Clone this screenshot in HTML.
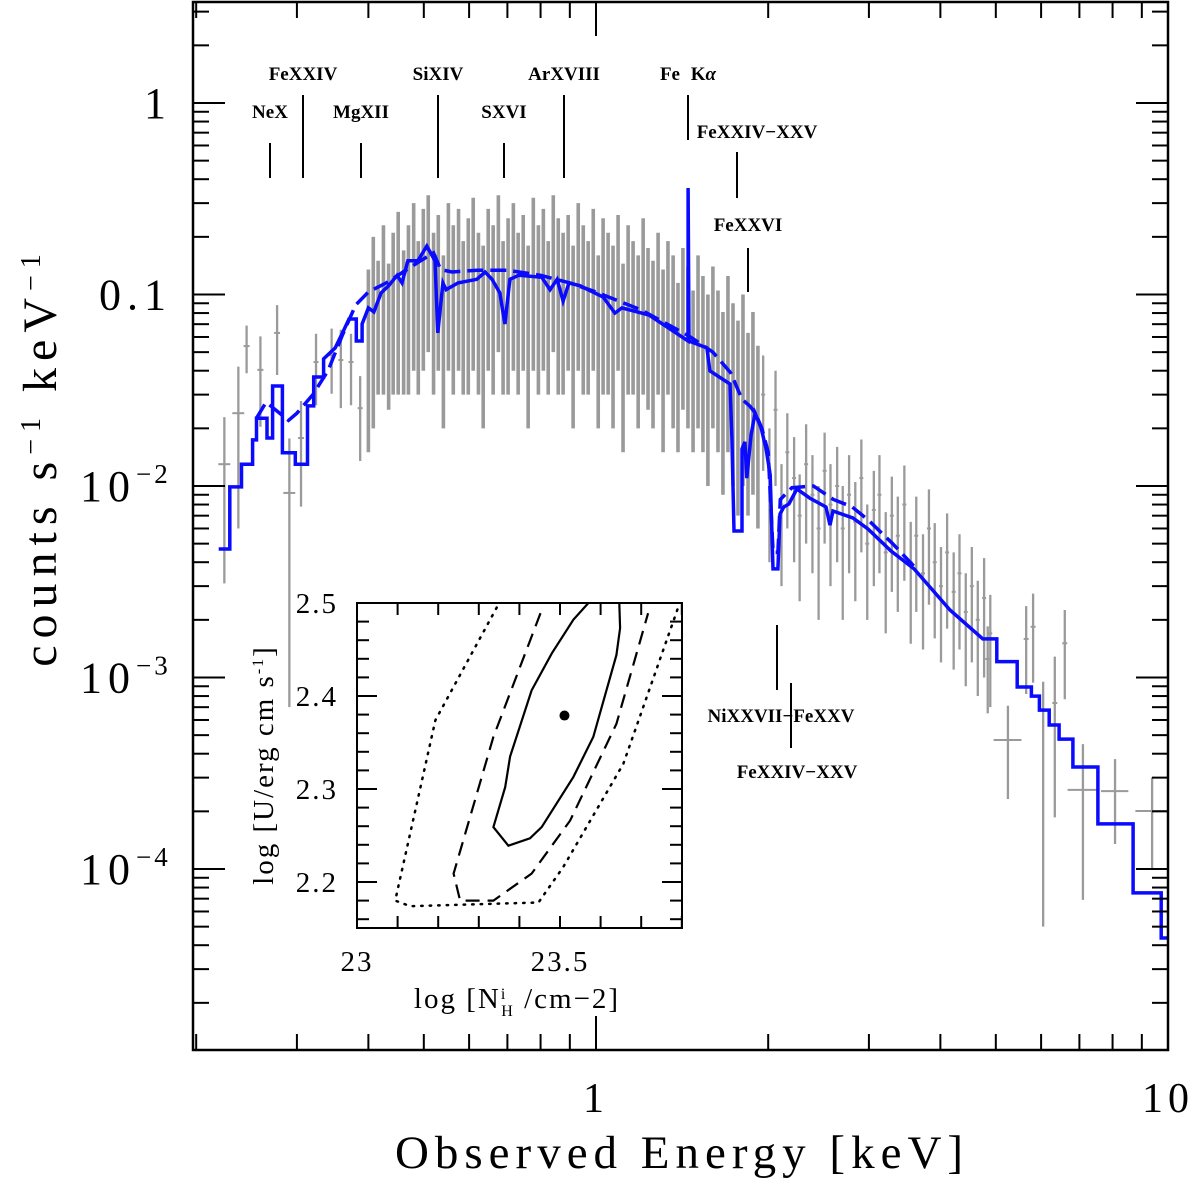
<!DOCTYPE html>
<html><head><meta charset="utf-8">
<style>
html,body{margin:0;padding:0;background:#fff;}
svg{display:block;}
text{font-family:"Liberation Serif","DejaVu Serif",serif;fill:#000;}
.lab{font-weight:bold;font-size:19px;}
</style></head>
<body>
<svg id="chart" width="1200" height="1185" viewBox="0 0 1200 1185" xmlns="http://www.w3.org/2000/svg">
<g id="data-layer"></g>
<g id="model-layer"></g>
<g id="axes-layer"></g>
<g id="inset"></g>
</svg>
<script>
// ---------- main chart data ----------
const dataE = [0.224,0.237,0.245,0.259,0.277,0.291,0.305,0.324,0.345,0.358,0.373,0.387,
0.400,0.408,0.416,0.425,0.434,0.442,0.451,0.461,0.470,0.480,0.489,0.499,0.509,0.520,0.530,0.541,0.552,0.563,0.575,0.586,0.598,0.610,0.623,0.635,0.648,0.661,0.675,0.688,0.702,0.717,0.731,0.746,0.761,0.777,0.793,0.809,0.825,0.842,0.859,0.876,0.894,0.912,0.931,0.950,0.969,0.989,1.009,1.029,1.050,1.071,1.093,1.115,1.138,1.161,1.185,1.209,1.233,1.258,1.284,1.310,1.336,1.364,1.391,1.419,1.448,1.478,1.508,1.538,1.569,1.601,1.634,1.667,1.701,1.736,1.771,1.807,1.844,1.881,1.919,
1.96,2.01,2.06,2.11,2.16,2.22,2.27,2.33,2.39,2.45,2.51,2.57,2.64,2.70,2.77,2.84,2.91,2.98,3.06,3.13,3.21,3.29,3.37,3.46,3.55,3.63,3.73,3.82,3.91,4.01,4.11,4.22,4.32,4.43,4.54,4.65,4.77,4.89,
4.84,5.65,5.81,5.25,6.34,6.05,6.60,7.10,8.08,9.38];
const dataV = [0.0130,0.0240,0.0538,0.0404,0.063,0.0092,0.0178,0.0444,0.0483,0.0455,0.0444,0.0255,
0.075,0.11,0.09,0.13,0.085,0.12,0.15,0.10,0.13,0.17,0.11,0.16,0.19,0.12,0.15,0.09,0.17,0.13,0.16,0.11,0.14,0.18,0.12,0.10,0.16,0.13,0.19,0.11,0.14,0.17,0.12,0.15,0.10,0.18,0.13,0.16,0.11,0.19,0.14,0.12,0.15,0.10,0.17,0.13,0.11,0.16,0.09,0.14,0.12,0.10,0.15,0.08,0.13,0.11,0.09,0.14,0.10,0.085,0.12,0.075,0.11,0.09,0.065,0.10,0.08,0.06,0.09,0.07,0.055,0.08,0.06,0.045,0.07,0.05,0.04,0.055,0.035,0.045,0.03,
0.030,0.012,0.025,0.008,0.015,0.011,0.007,0.013,0.009,0.006,0.012,0.008,0.010,0.006,0.009,0.0065,0.011,0.005,0.0075,0.009,0.0045,0.007,0.0055,0.008,0.004,0.0055,0.0035,0.006,0.0040,0.0030,0.0045,0.0028,0.0035,0.0022,0.0030,0.0020,0.0026,0.0017,
0.00125,0.00159,0.00184,0.000472,0.000736,0.0005,0.00151,0.000259,0.000255,0.000201];
const dataErr = [0.0099,0.018,0.015,0.02,0.025,0.0085,0.01,0.018,0.018,0.02,0.018,0.012,
0.06,0.09,0.06,0.10,0.06,0.09,0.12,0.07,0.10,0.13,0.08,0.12,0.14,0.09,0.11,0.07,0.13,0.10,0.12,0.08,0.11,0.14,0.09,0.08,0.12,0.10,0.14,0.08,0.11,0.13,0.09,0.11,0.08,0.14,0.10,0.12,0.08,0.14,0.11,0.09,0.11,0.08,0.13,0.10,0.08,0.12,0.07,0.11,0.09,0.08,0.11,0.065,0.10,0.08,0.07,0.11,0.075,0.065,0.09,0.06,0.08,0.07,0.05,0.075,0.06,0.045,0.07,0.055,0.045,0.06,0.045,0.036,0.055,0.04,0.033,0.045,0.028,0.036,0.024,
0.018,0.008,0.015,0.005,0.009,0.007,0.0045,0.008,0.0055,0.004,0.007,0.005,0.006,0.004,0.0055,0.004,0.0065,0.003,0.0045,0.0055,0.0028,0.0042,0.0033,0.0048,0.0025,0.0033,0.0021,0.0036,0.0024,0.0018,0.0027,0.0017,0.0021,0.0013,0.0018,0.0012,0.0016,0.0010,
0.0006,0.00077,0.0009,0.00024,0.00055,0.00045,0.00074,0.00019,0.00012,0.0001];
const dataXhw = [0.024,0.024,0.012,0.012,0.012,0.024,0.012,0.01,0.01,0.01,0.01,0.01];
const solidE = [0.219,0.229,0.229,0.240,0.240,0.251,0.251,0.255,0.255,0.266,0.266,0.272,0.272,0.283,0.283,0.298,0.298,0.313,0.313,0.321,0.321,0.334,0.334,0.350,0.361,0.370,0.381,0.381,0.390,0.390,0.400,0.409,0.421,0.434,0.449,0.458,0.469,0.488,0.506,0.523,0.529,0.540,0.547,0.574,0.619,0.640,0.658,0.679,0.693,0.707,0.733,0.804,0.831,0.855,0.876,0.897,0.938,1.029,1.079,1.110,1.238,1.449,1.449,1.454,1.563,1.582,1.715,1.728,1.743,1.800,1.800,1.821,1.835,1.867,1.897,1.944,1.983,2.016,2.039,2.080,2.097,2.130,2.174,2.245,2.365,2.524,2.565,2.596,2.813,2.989,3.277,3.598,4.159,4.745,5.02,5.02,5.45,5.45,5.77,5.77,5.96,5.96,6.20,6.20,6.45,6.45,6.82,6.82,7.54,7.54,8.69,8.69,9.73,9.73,10.0];
const solidV = [0.00469,0.00469,0.00989,0.00989,0.0130,0.0130,0.0174,0.0174,0.0226,0.0226,0.0178,0.0178,0.0333,0.0333,0.0149,0.0149,0.0130,0.0130,0.0262,0.0262,0.0371,0.0371,0.0461,0.0526,0.0637,0.0745,0.0745,0.0572,0.0572,0.0701,0.0851,0.0811,0.102,0.111,0.126,0.115,0.150,0.150,0.179,0.150,0.0630,0.115,0.106,0.115,0.120,0.131,0.120,0.102,0.0701,0.120,0.126,0.123,0.106,0.120,0.0925,0.115,0.111,0.0970,0.080,0.0851,0.0782,0.0572,0.360,0.0572,0.0526,0.0399,0.0341,0.0178,0.00582,0.00582,0.0156,0.0170,0.0110,0.0185,0.0240,0.0201,0.0156,0.0114,0.00369,0.00369,0.00714,0.00777,0.00805,0.00964,0.00865,0.00777,0.00625,0.00740,0.00681,0.00596,0.00458,0.00369,0.00225,0.00159,0.00159,0.00121,0.00121,0.000892,0.000892,0.000800,0.000800,0.000676,0.000676,0.000565,0.000565,0.000477,0.000477,0.000341,0.000341,0.000172,0.000172,0.0000750,0.0000750,0.0000436,0.0000436];
const dashE = [0.255,0.265,0.29,0.30,0.32,0.34,0.36,0.38,0.40,0.43,0.46,0.49,0.52,0.535,0.56,0.62,0.70,0.80,0.90,1.0,1.2,1.45,1.6,1.72,1.80,1.86,1.90,1.95,2.0,2.04,2.08,2.1,2.2,2.4,2.6,2.8,3.0,3.3,3.6];
const dashV = [0.0226,0.0274,0.022,0.024,0.030,0.040,0.061,0.088,0.103,0.115,0.131,0.148,0.165,0.135,0.131,0.134,0.134,0.126,0.115,0.103,0.083,0.061,0.050,0.039,0.0284,0.026,0.024,0.020,0.015,0.0045,0.0045,0.0085,0.0098,0.0100,0.0085,0.0078,0.0066,0.0050,0.0038];
const xTickLabels = ["1","10"];
const xTickVals = [1,10];
const yTickVals = [1,0.1,0.01,0.001,0.0001];
const yTickMant = ["1","0.1","10","10","10"];
const yTickExp = ["","","−2","−3","−4"];
// ---------- inset data ----------
const solidCx = [23.57,23.533,23.48,23.43,23.377,23.365,23.336,23.373,23.426,23.455,23.533,23.582,23.639,23.648,23.646];
const solidCy = [2.5,2.482,2.446,2.406,2.335,2.302,2.259,2.239,2.247,2.259,2.313,2.356,2.444,2.473,2.5];
const dashCx = [23.452,23.336,23.238,23.254,23.336,23.43,23.525,23.639,23.717];
const dashCy = [2.489,2.356,2.209,2.18,2.18,2.209,2.266,2.37,2.489];
const dotCx = [23.344,23.193,23.094,23.131,23.447,23.508,23.656,23.791];
const dotCy = [2.495,2.374,2.18,2.174,2.178,2.216,2.327,2.495];
const bestFit = [23.511,2.379];
const insetXTicks = ["23","23.5"];
const insetYTicks = ["2.5","2.4","2.3","2.2"];

const NS="http://www.w3.org/2000/svg";
function mk(tag,attrs,parent){const e=document.createElementNS(NS,tag);for(const k in attrs)e.setAttribute(k,attrs[k]);parent.appendChild(e);return e;}
const L=193,R=1168,T=2,B=1050;
const X=e=>596+572*Math.log10(e);
const Y=v=>103-191.5*Math.log10(v);
const dl=document.getElementById('data-layer');
const ml=document.getElementById('model-layer');
const al=document.getElementById('axes-layer');
const ins=document.getElementById('inset');

const defs=mk('defs',{},document.getElementById('chart'));
const cp=mk('clipPath',{id:'plotclip'},defs);
mk('rect',{x:L,y:T,width:R-L,height:B-T},cp);
dl.setAttribute('clip-path','url(#plotclip)');
ml.setAttribute('clip-path','url(#plotclip)');

for(let i=0;i<dataE.length;i++){
  const e=dataE[i],v=dataV[i],er=dataErr[i];
  const x=X(e);
  const lo=Math.max(v-er,v*0.02);
  const g=mk('g',{},dl);
  
  
  const dense=(i>=12&&i<91);
  mk('line',{x1:x,x2:x,y1:Y(v+er),y2:Y(lo),stroke:'#9a9a9a','stroke-width':dense?3.6:2.3},g);
  let hw = i<dataXhw.length?dataXhw[i]:0.006;
  if(i>=dataE.length-10){ hw = [0.01,0.01,0.01,0.056,0.01,0.0,0.01,0.06,0.055,0.065][i-(dataE.length-10)]; }
  if(i>=91&&i<dataE.length-10) hw=0.008;
  if(hw>0){ mk('line',{x1:X(e*(1-hw)),x2:X(e*(1+hw)),y1:Y(v),y2:Y(v),stroke:'#9a9a9a','stroke-width':2},g); }
}
function pts(xs,ys){return xs.map((e,i)=>X(e).toFixed(1)+','+Y(ys[i]).toFixed(1)).join(' ');}
const dash=mk('polyline',{points:pts(dashE,dashV),fill:'none',stroke:'#0a0aff','stroke-width':3.5,'stroke-dasharray':'16 7'},ml);


const sol=mk('polyline',{points:pts(solidE,solidV),fill:'none',stroke:'#0a0aff','stroke-width':3.5,'stroke-linejoin':'miter'},ml);



const fr=mk('rect',{x:L,y:T,width:R-L,height:B-T,fill:'none',stroke:'#000','stroke-width':2.5},al);


for(let d=-1;d<=0;d++){for(let m=1;m<=9;m++){const e=m*Math.pow(10,d);if(e<0.2||e>10)continue;const x=X(e);const len=(m===1)?34:16;
 mk('line',{x1:x,x2:x,y1:B,y2:B-len,stroke:'#000','stroke-width':2},al);mk('line',{x1:x,x2:x,y1:T,y2:T+len,stroke:'#000','stroke-width':2},al);}}
for(let d=-5;d<=0;d++){for(let m=1;m<=9;m++){const v=m*Math.pow(10,d);const y=Y(v);if(y<T||y>B)continue;const len=(m===1)?32:16;
 mk('line',{x1:L,x2:L+len,y1:y,y2:y,stroke:'#000','stroke-width':2},al);mk('line',{x1:R,x2:R-len,y1:y,y2:y,stroke:'#000','stroke-width':2},al);}}
xTickVals.forEach((v,i)=>{const t=mk('text',{x:X(v),y:1112,'text-anchor':'middle','font-size':42,'letter-spacing':'5'},al);t.textContent=xTickLabels[i];
 
 });
yTickVals.forEach((v,i)=>{const y=Y(v)+15;const t=mk('text',{x:yTickExp[i]?136:172,y:y,'text-anchor':'end','font-size':44,'letter-spacing':'6'},al);t.textContent=yTickMant[i];
 
 
 if(yTickExp[i]){const s=mk('text',{x:136,y:y-18,'text-anchor':'start','font-size':27,'letter-spacing':'3'},al);s.textContent=yTickExp[i];
 
 }});
const xt=mk('text',{x:682,y:1168,'text-anchor':'middle','font-size':47,'letter-spacing':'6'},al);xt.textContent='Observed Energy [keV]';


const yt=mk('text',{x:0,y:0,'text-anchor':'middle','font-size':48,'letter-spacing':'7',transform:'translate(56,457) rotate(-90)'},al);
yt.innerHTML='counts s<tspan dy="-16" font-size="28">−1</tspan><tspan dy="16"> keV</tspan><tspan dy="-16" font-size="28">−1</tspan>';



const markers=[["NeX",270,118,270,143,178],["FeXXIV",303,80,303,95,178],["MgXII",361,118,361,143,178],["SiXIV",438,80,438,95,178],["SXVI",504,118,504,143,178],["ArXVIII",564,80,564,95,178],["Fe Kα",688,80,688,95,140],["FeXXIV−XXV",757,138,737,152,198],["FeXXVI",748,231,748,248,292],["NiXXVII−FeXXV",781,722,777,625,690],["FeXXIV−XXV",797,778,791,683,748]];
markers.forEach(m=>{const g=mk('g',{},al);
 
 
 const t=mk('text',{x:m[1],y:m[2],'text-anchor':'middle',class:'lab'},g);
 if(m[0]==='Fe Kα'){t.innerHTML='Fe K<tspan font-style="italic">α</tspan>';t.setAttribute('word-spacing','6');} else t.textContent=m[0];
 mk('line',{x1:m[3],x2:m[3],y1:m[4],y2:m[5],stroke:'#000','stroke-width':2},g);});

// ---------- inset ----------
const IL=357,IR=682,IT=603,IB=928;
const IX=v=>IL+(v-23)*406;
const IY=v=>IT+(2.5-v)*930;
mk('rect',{x:IL,y:IT,width:IR-IL,height:IB-IT,fill:'#fff'},ins);
const icp=mk('clipPath',{id:'insclip'},defs);
mk('rect',{x:IL,y:IT,width:IR-IL,height:IB-IT},icp);
const ig=mk('g',{'clip-path':'url(#insclip)'},ins);
function ipts(xs,ys){return xs.map((v,i)=>IX(v).toFixed(1)+','+IY(ys[i]).toFixed(1)).join(' ');}
const c1=mk('polyline',{points:ipts(dotCx,dotCy),fill:'none',stroke:'#000','stroke-width':2.5,'stroke-dasharray':'1.5 7','stroke-linecap':'round'},ig);


const c2=mk('polyline',{points:ipts(dashCx,dashCy),fill:'none',stroke:'#000','stroke-width':2.2,'stroke-dasharray':'14 8'},ig);


const c3=mk('polyline',{points:ipts(solidCx,solidCy),fill:'none',stroke:'#000','stroke-width':2.2},ig);


const bf=mk('circle',{cx:IX(bestFit[0]),cy:IY(bestFit[1]),r:5,fill:'#000'},ins);


mk('rect',{x:IL,y:IT,width:IR-IL,height:IB-IT,fill:'none',stroke:'#000','stroke-width':2},ins);
for(let k=0;k<=8;k++){const x=IX(23+k*0.1);if(x>IR)continue;
 mk('line',{x1:x,x2:x,y1:IB,y2:IB-12,stroke:'#000','stroke-width':2},ins);mk('line',{x1:x,x2:x,y1:IT,y2:IT+12,stroke:'#000','stroke-width':2},ins);}
for(let k=0;k<=18;k++){const v=2.5-k*0.02;const y=IY(v);if(y>IB)continue;const len=(k%5===0)?20:12;
 mk('line',{x1:IL,x2:IL+len,y1:y,y2:y,stroke:'#000','stroke-width':2},ins);mk('line',{x1:IR,x2:IR-len,y1:y,y2:y,stroke:'#000','stroke-width':2},ins);}
insetXTicks.forEach(s=>{const t=mk('text',{x:IX(parseFloat(s)),y:971,'text-anchor':'middle','font-size':29,'letter-spacing':'2'},ins);t.textContent=s;
 
 });
insetYTicks.forEach(s=>{const t=mk('text',{x:338,y:IY(parseFloat(s))+10,'text-anchor':'end','font-size':29,'letter-spacing':'2'},ins);t.textContent=s;
 
 });
const ixt=mk('text',{x:517,y:1008,'text-anchor':'middle','font-size':29,'letter-spacing':'2'},ins);
ixt.innerHTML='log [N<tspan dy="-9" font-size="16">i</tspan><tspan dx="-6" dy="17" font-size="16">H</tspan><tspan dy="-8"> /cm−2]</tspan>';


const iyt=mk('text',{x:0,y:0,'text-anchor':'middle','font-size':29,'letter-spacing':'2',transform:'translate(273,765) rotate(-90)'},ins);
iyt.innerHTML='log [U/erg cm s<tspan dy="-10" font-size="16">-1</tspan><tspan dy="10">]</tspan>';


</script>
</body></html>
